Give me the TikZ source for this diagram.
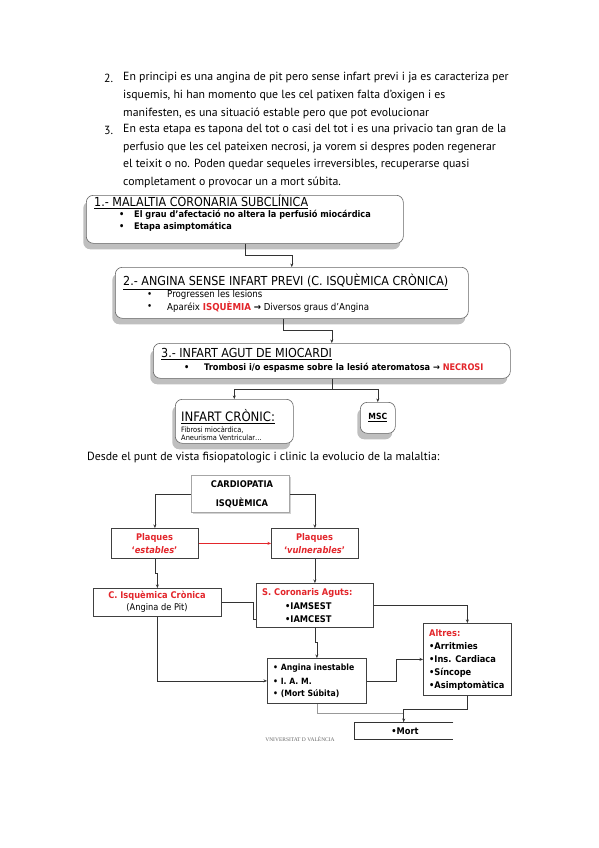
\documentclass[tikz,border=0pt]{standalone}
\usepackage{fontspec}
\setmainfont{PT Sans}
\newfontfamily\diagfont[FakeStretch=0.9]{DejaVu Sans}
\newfontfamily\logofont{Liberation Serif}
\usetikzlibrary{arrows.meta,shadows,positioning}
\definecolor{alert}{HTML}{E3262B}

\tikzset{
  para/.style={anchor=west, inner sep=0pt, font=\fontsize{11.8}{14}\selectfont},
  stage/.style={draw=black!60, line width=0.6pt, rounded corners=7pt, fill=white,
    drop shadow={shadow xshift=-3pt, shadow yshift=-6pt, fill=black!50},
    anchor=north west, inner sep=0pt},
  stagetitle/.style={anchor=west, inner sep=0pt, font=\diagfont\fontsize{12.4}{14}\selectfont},
  stageitem/.style={anchor=west, inner sep=0pt, font=\diagfont\fontsize{9.6}{11}\selectfont},
  stagebold/.style={anchor=west, inner sep=0pt, font=\diagfont\bfseries\fontsize{9.1}{11}\selectfont},
  flowbox/.style={draw=black!75, line width=0.8pt, fill=white, anchor=north west, inner sep=0pt,
    drop shadow={shadow xshift=1pt, shadow yshift=-1pt, fill=black!35}},
  flowtxt/.style={inner sep=0pt, font=\diagfont\bfseries\fontsize{9.2}{11}\selectfont},
  link/.style={black!80, line width=0.6pt},
  redlink/.style={alert, line width=0.9pt},
  tip/.style={-{Stealth[length=3.5pt,width=3pt]}},
}

\begin{document}
\begin{tikzpicture}[x=1pt,y=1pt]
  \useasboundingbox[fill=white] (0,0) rectangle (599,-848);

  % numbered paragraphs
  \node[para] (n2) at (104,-78) {2.};
  \node[para] (p1) at (123,-78) {En principi es una angina de pit pero sense infart previ i ja es caracteriza per};
  \node[para] (p2) at (123,-96) {isquemis, hi han momento que les cel patixen falta d’oxigen i es};
  \node[para] (p3) at (123,-113) {manifesten, es una situació estable pero que pot evolucionar};
  \node[para] (n3) at (104,-130) {3.};
  \node[para] (p4) at (123,-130) {En esta etapa es tapona del tot o casi del tot i es una privacio tan gran de la};
  \node[para] (p5) at (123,-148) {perfusio que les cel pateixen necrosi, ja vorem si despres poden regenerar};
  \node[para] (p6) at (123,-165) {el teixit o no. Poden quedar sequeles irreversibles, recuperarse quasi};
  \node[para] (p7) at (123,-182) {completament o provocar un a mort súbita.};

  % stages of the disease
  \node[stage, minimum width=317, minimum height=48] (s1) at (86,-195) {};
  \node[stage, minimum width=353, minimum height=51] (s2) at (115,-267) {};
  \node[stage, minimum width=357, minimum height=35] (s3) at (153,-343) {};
  \node[stage, minimum width=118, minimum height=44] (s4) at (175,-399) {};
  \node[stage, minimum width=35, minimum height=31] (msc) at (360,-402) {};

  \node[stagetitle] (s1t) at (94,-202) {\underline{1.- MALALTIA CORONARIA SUBCLÍNICA}};
  \node[stagebold] (s1b1) at (119,-215) {•};
  \node[stagebold] (s1i1) at (134,-215) {El grau d’afectació no altera la perfusió miocárdica};
  \node[stagebold] (s1b2) at (119,-227) {•};
  \node[stagebold] (s1i2) at (134,-227) {Etapa asimptomática};

  \node[stagetitle] (s2t) at (123,-282) {\underline{2.- ANGINA SENSE INFART PREVI (C. ISQUÈMICA CRÒNICA)}};
  \node[stageitem] (s2b1) at (147,-295) {•};
  \node[stageitem] (s2i1) at (167,-295) {Progressen les lesions};
  \node[stageitem] (s2b2) at (147,-307) {•};
  \node[stageitem] (s2i2) at (167,-307) {Aparéix \textcolor{alert}{\bfseries ISQUÈMIA} \textbf{→} Diversos graus d’Angina};

  \node[stagetitle] (s3t) at (161,-354) {\underline{3.- INFART AGUT DE MIOCARDI}};
  \node[stagebold] (s3b1) at (184,-368) {•};
  \node[stagebold] (s3i1) at (204,-368) {Trombosi i/o espasme sobre la lesió ateromatosa → \textcolor{alert}{NECROSI}};

  \node[stagetitle, font=\diagfont\fontsize{13}{15}\selectfont] (s4t) at (181,-417) {\underline{INFART CRÒNIC:}};
  \node[anchor=west, inner sep=0pt, font=\diagfont\fontsize{7.4}{8}\selectfont] (s4i1) at (181,-430) {Fibrosi miocàrdica,};
  \node[anchor=west, inner sep=0pt, font=\diagfont\fontsize{7.4}{8}\selectfont] (s4i2) at (181,-438) {Aneurisma Ventricular…};
  \node[inner sep=0pt, font=\diagfont\bfseries\fontsize{8.5}{10}\selectfont] (msct) at (msc.center) {\underline{MSC}};

  \draw[link,tip] (s1.south) -- ++(0,-12) -| (s2.north);
  \draw[link,tip] ([xshift=-9pt]s2.south) -- ++(0,-12) -| (s3.north);
  \draw[link,tip] (s3.south) -- ++(0,-11) -| (s4.north);
  \draw[link,tip] (s3.south) -- ++(0,-11) -| (msc.north);

  \node[para] (intro) at (87,-458) {Desde el punt de vista fisiopatologic i clinic la evolucio de la malaltia:};

  % evolution flowchart
  \node[flowbox, draw=black!35, line width=1pt, drop shadow={opacity=0}, minimum width=98, minimum height=37] (cardio) at (191,-475) {};
  \node[flowtxt] (cardio1) at (242,-484) {CARDIOPATIA};
  \node[flowtxt] (cardio2) at (242,-503) {ISQUÈMICA};

  \node[flowbox, minimum width=87, minimum height=30] (estables) at (111,-528) {};
  \node[flowtxt, text=alert] (est1) at (154.5,-538) {Plaques};
  \node[flowtxt, text=alert] (est2) at (154.5,-550) {‘\textit{estables}’};

  \node[flowbox, minimum width=87, minimum height=30] (vulner) at (271,-528) {};
  \node[flowtxt, text=alert] (vul1) at (314.5,-538) {Plaques};
  \node[flowtxt, text=alert] (vul2) at (314.5,-550) {‘\textit{vulnerables}’};

  \node[flowbox, minimum width=128, minimum height=28] (cisq) at (93,-588) {};
  \node[flowtxt, text=alert] (cisq1) at (157,-596) {C. Isquèmica Crònica};
  \node[flowtxt, font=\diagfont\fontsize{9.2}{11}\selectfont] (cisq2) at (157,-608) {(Angina de Pit)};

  \node[flowbox, minimum width=117, minimum height=44] (sca) at (256,-583) {};
  \node[flowtxt, text=alert, anchor=west] (sca1) at (262,-593) {S. Coronaris Aguts:};
  \node[flowtxt, anchor=west] (sca2) at (285,-606) {•IAMSEST};
  \node[flowtxt, anchor=west] (sca3) at (285,-619) {•IAMCEST};

  \node[flowbox, minimum width=88, minimum height=72] (altres) at (423,-623) {};
  \node[flowtxt, text=alert, anchor=west] (alt1) at (429,-633) {Altres:};
  \node[flowtxt, anchor=west] (alt2) at (429,-646) {•Arritmies};
  \node[flowtxt, anchor=west] (alt3) at (429,-659) {•Ins. Cardiaca};
  \node[flowtxt, anchor=west] (alt4) at (429,-673) {•Síncope};
  \node[flowtxt, anchor=west] (alt5) at (429,-686) {•Asimptomàtica};

  \node[flowbox, minimum width=99, minimum height=45] (angina) at (267,-658) {};
  \node[flowtxt, anchor=west, font=\diagfont\bfseries\fontsize{8.6}{10}\selectfont] (ang1) at (273,-668) {• Angina inestable};
  \node[flowtxt, anchor=west, font=\diagfont\bfseries\fontsize{8.6}{10}\selectfont] (ang2) at (273,-681) {• I. A. M.};
  \node[flowtxt, anchor=west, font=\diagfont\bfseries\fontsize{8.6}{10}\selectfont] (ang3) at (273,-694) {• (Mort Súbita)};

  \node[inner sep=0pt, minimum width=99, minimum height=17, anchor=north west] (mort) at (354,-722) {};
  \draw[link, line width=0.8pt] (mort.north east) -- (mort.north west) -- (mort.south west) -- (mort.south east);
  \node[flowtxt] (mortt) at (405,-731) {•Mort};

  \node[inner sep=0pt, text=black!60, font=\logofont\fontsize{5.5}{6}\selectfont] (univ) at (300,-739) {VNIVERSITAT D VALÈNCIA};

  \draw[link,tip] (cardio.west) -| (estables.north);
  \draw[link,tip] (cardio.east) -| (vulner.north);
  \draw[redlink,tip] (estables.east) -- (vulner.west);
  \draw[link,tip] (estables.south) -- ++(0,-14) -| (cisq.north);
  \draw[link,tip] (vulner.south) -- (sca.north);
  \draw[link] (cisq.east) -- ++(31,0) |- ([yshift=-14pt]sca.west);
  \draw[link,tip] (sca.east) -| (altres.north);
  \draw[link,tip] (sca.south) -- ++(0,-14) -| (angina.north);
  \draw[link,tip] (cisq.south) |- (angina.west);
  \draw[link,tip] (angina.east) -- ++(29,0) |- (altres.west);
  \draw[link,black!40] (angina.south) -- ++(0,-9) -| (mort.north);
  \draw[link,tip] (altres.south) -- ++(0,-13) -| (mort.north);
\end{tikzpicture}
\end{document}
